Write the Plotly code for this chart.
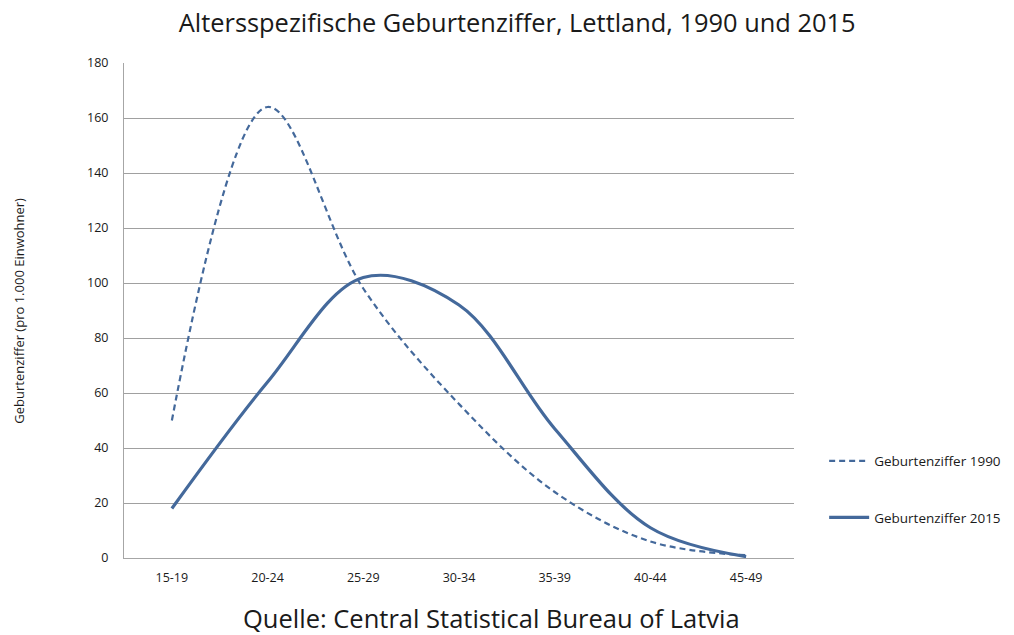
import plotly.graph_objects as go

categories = ["15-19", "20-24", "25-29", "30-34", "35-39", "40-44", "45-49"]
rate_1990 = [50, 164, 98, 56, 24, 6, 1]
rate_2015 = [18, 64, 102, 92, 47, 11, 0.5]
y_ticks = [0, 20, 40, 60, 80, 100, 120, 140, 160, 180]

color = "#44699b"
font_family = "Open Sans, Lato, sans-serif"

fig = go.Figure()
fig.add_trace(go.Scatter(
    x=categories, y=rate_1990, mode="lines", name="Geburtenziffer 1990",
    line=dict(color=color, width=2.2, dash="6px,4px", shape="spline", smoothing=1.0),
    legendgroup="a",
))
fig.add_trace(go.Scatter(
    x=categories, y=rate_2015, mode="lines", name="Geburtenziffer 2015",
    line=dict(color=color, width=3.2, shape="spline", smoothing=1.0),
    legendgroup="b",
))

fig.update_layout(
    width=1014, height=635,
    paper_bgcolor="white", plot_bgcolor="white",
    margin=dict(l=124, r=220, t=63, b=77, autoexpand=False),
    title=dict(text="Altersspezifische Geburtenziffer, Lettland, 1990 und 2015",
               x=0.51, xref="container", xanchor="center", y=0.964, yanchor="middle",
               font=dict(family=font_family, size=25.4, color="#1a1a1a")),
    font=dict(family=font_family, color="#333333"),
    xaxis=dict(type="category", range=[-0.5, 6.5], showgrid=False, showline=True,
               linecolor="#a6a6a6", linewidth=1, ticks="",
               tickfont=dict(size=12.5, color="#1a1a1a"),
               ticklabelstandoff=8, automargin=False),
    yaxis=dict(range=[0, 180], tickvals=y_ticks, showgrid=True, gridcolor="#a0a0a0",
               gridwidth=1, showline=True, linecolor="#a6a6a6", linewidth=1,
               ticks="", tickfont=dict(size=12.5, color="#1a1a1a"), ticklabelstandoff=12,
               zeroline=False, automargin=False),
    legend=dict(x=1.045, xanchor="left", y=0.227, yanchor="top",
                tracegroupgap=36, font=dict(size=13.5, color="#1a1a1a"),
                bgcolor="rgba(0,0,0,0)", itemwidth=40),
    showlegend=True,
)

fig.add_annotation(text="Geburtenziffer (pro 1.000 Einwohner)",
                   xref="paper", yref="paper", x=-0.158, y=0.5, textangle=-90,
                   xanchor="center", yanchor="middle", showarrow=False,
                   font=dict(family=font_family, size=13, color="#1a1a1a"))

fig.add_annotation(text="Quelle: Central Statistical Bureau of Latvia",
                   xref="paper", yref="paper", x=0.548, y=-0.121, yanchor="middle",
                   xanchor="center", showarrow=False,
                   font=dict(family=font_family, size=25.5, color="#1a1a1a"))

fig.write_html(
    "out.html",
    config={"displayModeBar": False},
    post_script="document.body.style.margin='0';document.body.style.overflow='hidden';",
)
